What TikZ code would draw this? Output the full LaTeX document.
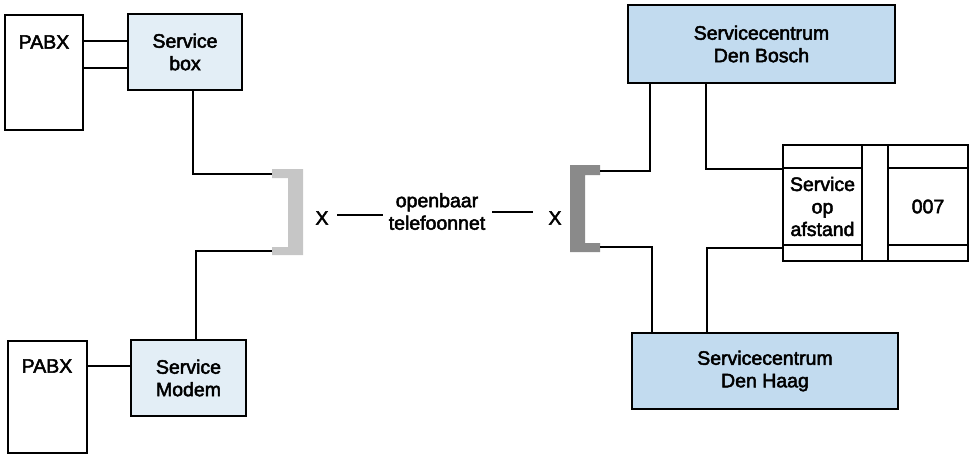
\documentclass[tikz,border=0pt]{standalone}
\usepackage{fontspec}
\setmainfont{Liberation Sans}
\newfontfamily\medfont{Liberation Sans}[FakeBold=2.5]
\newcommand\fsz{\medfont\fontsize{19.5}{22.5}\selectfont}
\definecolor{lightbox}{HTML}{E3EEF6}
\definecolor{centrebox}{HTML}{C2DBEF}
\definecolor{lgray}{HTML}{C6C6C6}
\definecolor{dgray}{HTML}{8A8A8A}
\begin{document}
\begin{tikzpicture}[x=1pt,y=-1pt,
  box/.style={draw=black, line width=2pt, inner sep=0pt, align=center, font=\fsz},
  ln/.style={line width=1.1pt},
  txt/.style={inner sep=0pt, align=center, font=\fsz}]
\useasboundingbox (0,0) rectangle (970,455);
% left side
\node[box, minimum width=78pt, minimum height=115pt] (pabxA) at (44,72.5) {};
\node[txt] (pabxAt) at (44,42) {PABX};
\node[box, fill=lightbox, minimum width=114pt, minimum height=76pt] (sbox) at (185,52) {Service\\box};
\node[box, minimum width=79pt, minimum height=112pt] (pabxB) at (47.5,397) {};
\node[txt] (pabxBt) at (47,366) {PABX};
\node[box, fill=lightbox, minimum width=115pt, minimum height=76pt] (smodem) at (188.5,378) {Service\\Modem};
% brackets
\fill[lgray] (272,169) -- (303,169) -- (303,255) -- (272,255) -- (272,247) -- (288,247) -- (288,178) -- (272,178) -- cycle;
\coordinate (brLt) at (272,174);
\coordinate (brLb) at (272,251);
\fill[dgray] (600,165) -- (570,165) -- (570,252) -- (600,252) -- (600,243) -- (585,243) -- (585,175) -- (600,175) -- cycle;
\coordinate (brRt) at (600,171);
\coordinate (brRb) at (600,247);
% network
\node[txt] (xL) at (322,218) {X};
\node[txt] (net) at (437,211.5) {openbaar\\telefoonnet};
\node[txt] (xR) at (555,218) {X};
\draw[ln] ([xshift=8.5pt,yshift=3pt]xL.east) -- ([xshift=-6pt,yshift=-3.5pt]net.west);
\draw[ln] ([xshift=7pt,yshift=-0.5pt]net.east) -- ([xshift=-15.5pt,yshift=6pt]xR.west);
% right side
\node[box, fill=centrebox, minimum width=267pt, minimum height=78pt] (bosch) at (761.5,44) {Servicecentrum\\Den Bosch};
\node[box, fill=centrebox, minimum width=266pt, minimum height=76pt] (haag) at (765,371) {Servicecentrum\\Den Haag};
\draw[line width=2pt] (783,145) rectangle (968,261);
\draw[line width=2pt] (862,145) -- (862,261);
\draw[line width=2pt] (888,145) -- (888,261);
\node[box, minimum width=79pt, minimum height=77pt] (afst) at (822.5,206.5) {Service\\op\\afstand};
\node[box, minimum width=80pt, minimum height=77pt] (c007) at (928,206.5) {007};
% connectors
\draw[ln] ([yshift=31.5pt]pabxA.east) -- ([yshift=11pt]sbox.west);
\draw[ln] ([yshift=4.5pt]pabxA.east) -- ([yshift=-16pt]sbox.west);
\draw[ln] ([yshift=31pt]pabxB.east) -- ([yshift=12pt]smodem.west);
\draw[ln] ([xshift=8pt]sbox.south) |- (brLt);
\draw[ln] ([xshift=7.5pt]smodem.north) |- (brLb);
\draw[ln] (brRt) -| ([xshift=-111.5pt]bosch.south);
\draw[ln] (brRb) -| ([xshift=-113pt]haag.north);
\draw[ln] ([xshift=-55.5pt]bosch.south) |- ([yshift=-2pt]afst.north west);
\draw[ln] ([xshift=-58pt]haag.north) |- ([yshift=-2pt]afst.south west);
\end{tikzpicture}
\end{document}
